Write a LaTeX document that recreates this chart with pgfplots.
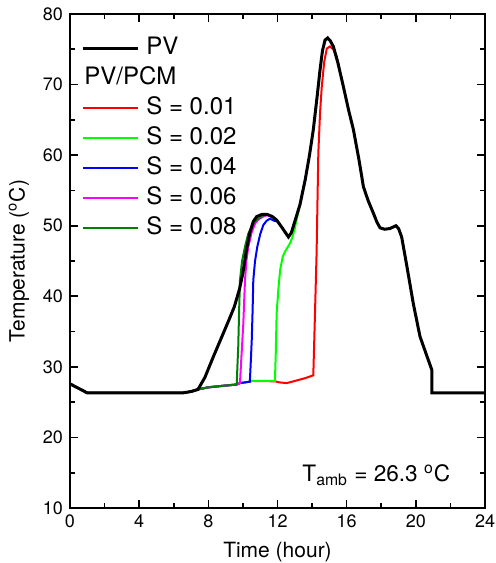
\documentclass[border=0pt]{standalone}
\usepackage{pgfplots}
\pgfplotsset{compat=1.18}
\usepackage{fontspec}
\setmainfont{TeX Gyre Heros}
\definecolor{dkgreen}{rgb}{0,0.5,0}
\definecolor{lgreen}{rgb}{0,1,0}
\definecolor{mag}{rgb}{1,0,1}

\begin{document}
\begin{tikzpicture}
\begin{axis}[
    scale only axis, width=207.5pt, height=247pt,
    xmin=0, xmax=24, ymin=10, ymax=80,
    xtick={0,4,...,24}, minor xtick={2,6,...,22},
    ytick={10,20,...,80}, minor ytick={15,25,...,75},
    tick align=inside, major tick length=4pt, minor tick length=2.5pt,
    axis line style={line width=1pt}, tick style={line width=0.8pt, black},
    /pgf/number format/assume math mode=true,
    tick label style={font=\fontsize{9}{10}\selectfont},
    label style={font=\fontsize{10.5}{12}\selectfont},
    xlabel={Time (hour)}, ylabel={Temperature (\textsuperscript{o}C)},
    legend cell align=left,
    legend image code/.code={\draw[#1] (0pt,0pt) -- (27.5pt,0pt);},
    legend style={draw=none, fill=none, at={(0,1)}, anchor=north west,
        xshift=2.5pt, yshift=-9.5pt, column sep=3.5pt, row sep=4pt,
        font=\fontsize{12}{14}\selectfont,
        nodes={inner sep=0pt, text height=8.5pt, text depth=2.5pt}},
]
\addlegendimage{black, line width=1.5pt}
\addlegendentry{PV}
\addlegendimage{empty legend}
\addlegendentry{\hspace*{-31pt}PV/PCM}

\addplot[red, line width=1pt] coordinates {
(0,27.6) (0.3,27.2) (0.7,26.7) (1,26.3) (6.5,26.3) (7,26.5) (7.4,26.8)
(8,27.1) (9,27.35) (9.64,27.5) (9.83,27.7) (10.4,27.9) (10.5,28.0) (11.85,27.95)
(12.1,27.8) (12.53,27.7) (13.0,28.0) (13.6,28.4) (14.07,28.8) (14.15,36)
(14.26,46.1) (14.36,60.3) (14.46,66) (14.56,69.7) (14.7,73.2) (14.85,75.1)
(15.03,75.4) (15.23,75.0) (15.42,74) (15.6,72)};
\addlegendentry{S = 0.01}

\addplot[lgreen, line width=1pt] coordinates {
(0,27.6) (0.3,27.2) (0.7,26.7) (1,26.3) (6.5,26.3) (7,26.5) (7.4,26.8)
(8,27.1) (9,27.35) (9.64,27.5) (9.83,27.7) (10.4,27.9) (10.5,28.0) (11.85,28.0)
(11.9,32) (11.95,37.6) (12.05,41) (12.15,43.7) (12.3,45.6) (12.43,46.3)
(12.6,47.0) (12.72,47.5) (12.85,48.3) (13.0,49.6) (13.1,50.8) (13.3,53) (13.6,56.5)};
\addlegendentry{S = 0.02}

\addplot[blue, line width=1pt] coordinates {
(0,27.6) (0.3,27.2) (0.7,26.7) (1,26.3) (6.5,26.3) (7,26.5) (7.4,26.8)
(8,27.1) (9,27.35) (9.64,27.5) (9.83,27.7) (10.4,27.9) (10.46,31) (10.51,33.8)
(10.56,38) (10.6,42.3) (10.7,45) (10.83,47) (11.0,48.8) (11.18,50.1)
(11.37,50.7) (11.57,51.0) (11.8,50.7) (11.95,50.6)};
\addlegendentry{S = 0.04}

\addplot[mag, line width=1pt] coordinates {
(0,27.6) (0.3,27.2) (0.7,26.7) (1,26.3) (6.5,26.3) (7,26.5) (7.4,26.8)
(8,27.1) (9,27.35) (9.64,27.5) (9.83,27.7) (9.88,30) (9.95,33) (10.02,36)
(10.12,42.3) (10.2,45) (10.31,47) (10.5,49) (10.7,50.3) (10.9,50.9)
(11.18,51.3) (11.4,51.5) (11.7,51.3)};
\addlegendentry{S = 0.06}

\addplot[dkgreen, line width=1pt] coordinates {
(0,27.6) (0.3,27.2) (0.7,26.7) (1,26.3) (6.5,26.3) (7,26.5) (7.4,26.8)
(8,27.1) (9,27.35) (9.64,27.5) (9.68,30) (9.73,32.9) (9.78,38) (9.83,42.3)
(9.95,45) (10.12,47) (10.3,48.8) (10.51,49.9) (10.7,50.6) (10.9,51.0)
(11.1,51.4) (11.4,51.6) (11.7,51.3)};
\addlegendentry{S = 0.08}

\addplot[black, line width=1.5pt, forget plot] coordinates {
(0,27.6) (0.3,27.2) (0.7,26.7) (1,26.3) (6.5,26.3) (7,26.5) (7.4,26.8)
(7.8,28.5) (8.3,31.5) (8.7,33.8) (9.2,36.7) (9.5,38.5) (9.8,41) (10.0,43.3)
(10.2,46.5) (10.4,49) (10.6,50.6) (10.8,51.3) (11.1,51.6) (11.4,51.6)
(11.7,51.3) (11.95,50.8) (12.3,49.6) (12.63,48.4) (12.8,49) (13.0,50.6)
(13.3,53) (13.6,56.5) (13.85,60) (14.07,63.6) (14.3,68.5) (14.46,72.1)
(14.6,74.8) (14.75,76.3) (14.9,76.6) (15.05,76.2) (15.23,75.4) (15.5,73)
(15.81,69.7) (16.1,66.5) (16.39,63.6) (16.7,59.5) (16.97,55.5) (17.25,53.5)
(17.54,51.8) (17.75,50.5) (17.93,49.7) (18.2,49.5) (18.5,49.6) (18.85,50.0)
(19.0,49.6) (19.18,48.4) (19.5,44) (19.85,39) (20.24,34.3) (20.6,31.8)
(20.92,29.6) (20.92,26.3) (24,26.3)};

\node[anchor=base west, inner sep=0pt, font=\fontsize{11.3}{13}\selectfont]
    at (axis cs:13.42,13.7) {T\textsubscript{amb} = 26.3 \textsuperscript{o}C};
\coordinate (sw) at (rel axis cs:0,0);
\coordinate (ne) at (rel axis cs:1,1);
\end{axis}
\pgfresetboundingbox
\path ([xshift=-35pt,yshift=-27.5pt]sw) rectangle ([xshift=5pt,yshift=7pt]ne);
\end{tikzpicture}
\end{document}
